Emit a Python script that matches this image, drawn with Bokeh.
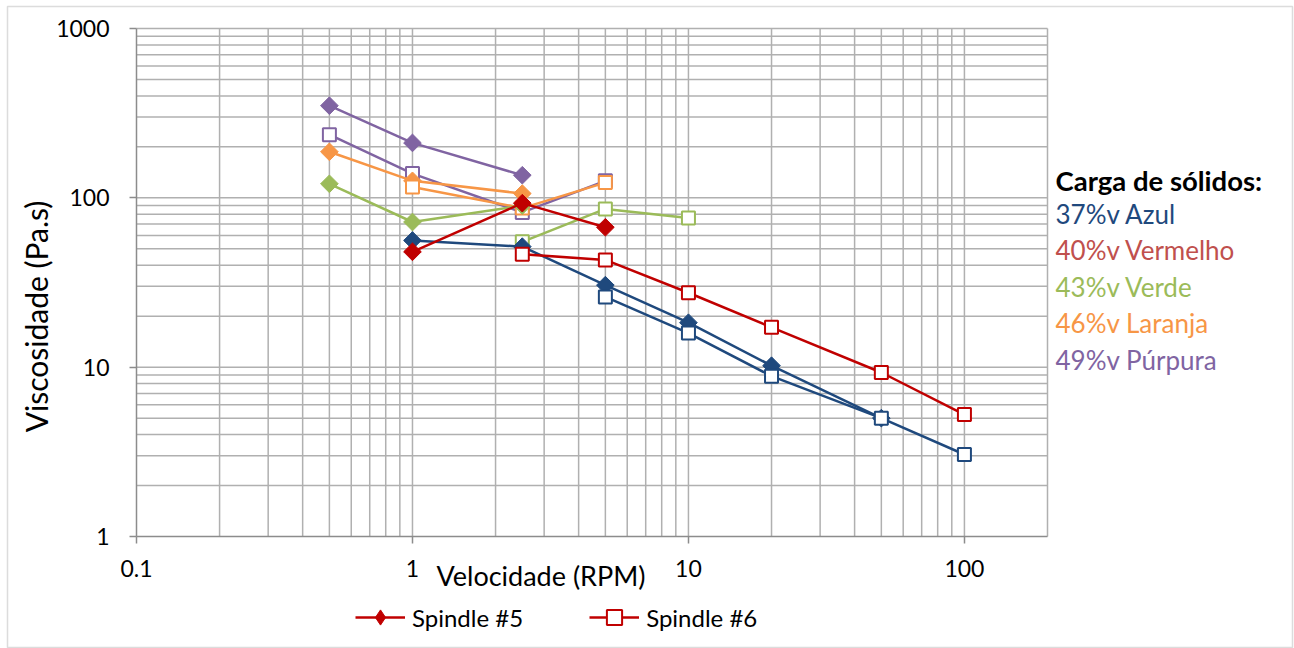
import numpy as np
from bokeh.plotting import figure
from bokeh.models import (FixedTicker, NumeralTickFormatter, Label, Legend, LegendItem,
                          BoxAnnotation, Range1d, LogAxis, ColumnDataSource)
from bokeh.embed import file_html
from bokeh.resources import INLINE

# ---- data (velocidade RPM, viscosidade Pa.s) ----
azul5_x = [1, 2.5, 5, 10, 20, 50]
azul5_y = [56, 51.5, 30.5, 18.3, 10.2, 5.0]
azul6_x = [5, 10, 20, 50, 100]
azul6_y = [26, 15.9, 8.85, 5.0, 3.05]
verm5_x = [1, 2.5, 5]
verm5_y = [48, 93, 67]
verm6_x = [2.5, 5, 10, 20, 50, 100]
verm6_y = [46.5, 43, 27.5, 17.2, 9.3, 5.25]
verde5_x = [0.5, 1, 2.5]
verde5_y = [121, 72, 90]
verde6_x = [2.5, 5, 10]
verde6_y = [55, 86, 76]
laranja5_x = [0.5, 1, 2.5]
laranja5_y = [187, 126, 106]
laranja6_x = [1, 2.5, 5]
laranja6_y = [116, 87, 123]
purpura5_x = [0.5, 1, 2.5]
purpura5_y = [350, 211, 136]
purpura6_x = [0.5, 1, 2.5, 5]
purpura6_y = [236, 139, 82, 126]

x_ticks = [0.1, 1, 10, 100]
y_ticks = [1, 10, 100, 1000]
x_lim = (0.1, 200)
y_lim = (1, 1000)
legend_texts = ["37%v Azul", "40%v Vermelho", "43%v Verde", "46%v Laranja", "49%v Púrpura"]
legend_colors = ["#1F497D", "#C0504D", "#9BBB59", "#F79646", "#8064A2"]

FONT = "Lato"
GRID = "#b0b0b0"
AXIS = "#8c8c8c"
RED = "#C00000"
W, H = 1294, 648
# plot-area placement on the canvas (pixels)
PL, PR, PT, PB = 136, 1047, 28, 536

# extend ranges so the frame covers the whole canvas and the plot area sits at PL..PR, PT..PB
lx0, lx1 = np.log10(x_lim[0]), np.log10(x_lim[1])
ly0, ly1 = np.log10(y_lim[0]), np.log10(y_lim[1])
sx = (PR - PL) / (lx1 - lx0)
sy = (PB - PT) / (ly1 - ly0)
x_range = Range1d(10 ** (lx0 - PL / sx), 10 ** (lx1 + (W - PR) / sx))
y_range = Range1d(10 ** (ly0 - (H - PB) / sy), 10 ** (ly1 + PT / sy))

p = figure(width=W, height=H, x_axis_type="log", y_axis_type="log",
           x_axis_location=None, y_axis_location=None, title=None,
           x_range=x_range, y_range=y_range,
           output_backend="svg", toolbar_location=None,
           min_border=0, min_border_left=0, min_border_right=0,
           min_border_top=0, min_border_bottom=0)
p.background_fill_color = "white"
p.border_fill_color = "white"
p.outline_line_color = None
for g in p.grid:
    g.visible = False

def minors(decades):
    return [k * d for d in decades for k in range(2, 10)]

x_minor = minors([0.1, 1, 10]) + [200]
y_minor = minors([1, 10, 100])

# grid lines (major + minor) inside the plot area
gx = x_ticks[1:] + x_minor
gy = y_ticks[1:] + y_minor
p.segment(x0=gx, y0=[y_lim[0]] * len(gx), x1=gx, y1=[y_lim[1]] * len(gx),
          line_color=GRID, line_width=1.5)
p.segment(x0=[x_lim[0]] * len(gy), y0=gy, x1=[x_lim[1]] * len(gy), y1=gy,
          line_color=GRID, line_width=1.5)

def style_axis(ax):
    ax.axis_line_color = AXIS
    ax.axis_line_width = 1.5
    ax.major_tick_line_color = AXIS
    ax.major_tick_line_width = 1.5
    ax.major_tick_out = 7
    ax.major_tick_in = 0
    ax.minor_tick_line_color = None
    ax.major_label_text_font = FONT
    ax.major_label_text_font_size = "23px"
    ax.major_label_text_color = "#000000"

yaxis = LogAxis(fixed_location=x_lim[0], bounds=y_lim,
                ticker=FixedTicker(ticks=y_ticks, minor_ticks=[]),
                formatter=NumeralTickFormatter(format="0"))
style_axis(yaxis)
yaxis.major_label_standoff = 20
p.add_layout(yaxis, "left")

xaxis = LogAxis(fixed_location=y_lim[0], bounds=x_lim,
                ticker=FixedTicker(ticks=x_ticks, minor_ticks=[]),
                formatter=NumeralTickFormatter(format="0.[0]"))
style_axis(xaxis)
xaxis.major_label_standoff = 16
p.add_layout(xaxis, "below")

def series(x, y, color, kind):
    ln = p.line(x, y, line_color=color, line_width=2.5)
    if kind == 5:
        sc = p.scatter(x, y, marker="square", angle=np.pi / 4, size=12.5,
                       fill_color=color, line_color=color, line_width=1)
    else:
        sc = p.scatter(x, y, marker="square", size=13,
                       fill_color="white", line_color=color, line_width=2)
    return ln, sc

series(purpura5_x, purpura5_y, "#8064A2", 5)
series(purpura6_x, purpura6_y, "#8064A2", 6)
series(laranja5_x, laranja5_y, "#F79646", 5)
series(laranja6_x, laranja6_y, "#F79646", 6)
series(verde5_x, verde5_y, "#9BBB59", 5)
series(verde6_x, verde6_y, "#9BBB59", 6)
series(azul5_x, azul5_y, "#1F497D", 5)
series(azul6_x, azul6_y, "#1F497D", 6)
r6 = series(verm6_x, verm6_y, RED, 6)
r5 = series(verm5_x, verm5_y, RED, 5)

# legend key for the diamond (Bokeh legends draw markers unrotated); NaN point is not drawn in the plot
key5 = p.scatter(x="x", y="y", source=ColumnDataSource(dict(x=[float("nan")], y=[float("nan")])),
                 marker="diamond", fill_color=RED, line_color=RED, line_width=1)

GH = 38
legend = Legend(items=[LegendItem(label="Spindle #5", renderers=[r5[0], key5]),
                       LegendItem(label="Spindle #6", renderers=list(r6))],
                orientation="horizontal", location=(355, H - (617 + GH / 2)),
                glyph_width=50, glyph_height=GH, label_height=GH, label_standoff=7, spacing=66,
                padding=0, margin=0, border_line_color=None, background_fill_alpha=0,
                label_text_font=FONT, label_text_font_size="24px", label_text_color="#000000")
p.add_layout(legend)

# axis titles
p.add_layout(Label(x=436, y=H - 575, x_units="screen", y_units="screen",
                   text="Velocidade (RPM)", text_font=FONT, text_font_size="27px",
                   text_baseline="middle", text_color="#000000"))
p.add_layout(Label(x=35, y=H - 316, x_units="screen", y_units="screen", angle=np.pi / 2,
                   text="Viscosidade (Pa.s)", text_font=FONT, text_font_size="30px",
                   text_align="center", text_baseline="middle", text_color="#000000"))

# right-hand notes
p.add_layout(Label(x=1055, y=H - 180, x_units="screen", y_units="screen",
                   text="Carga de sólidos:", text_font=FONT, text_font_size="27.5px",
                   text_font_style="bold", text_baseline="alphabetic", text_color="#000000"))
for i, (t, c) in enumerate(zip(legend_texts, legend_colors)):
    p.add_layout(Label(x=1055, y=H - (213.5 + 36.4 * i), x_units="screen", y_units="screen",
                       text=t, text_font=FONT, text_font_size="26px",
                       text_baseline="alphabetic", text_color=c))

# outer chart border
p.add_layout(BoxAnnotation(left=7, right=W - 2, top=H - 6, bottom=1,
                           left_units="screen", right_units="screen",
                           top_units="screen", bottom_units="screen",
                           fill_alpha=0, line_color=AXIS, line_width=1.5))

open("out.html", "w").write(file_html(p, INLINE))
